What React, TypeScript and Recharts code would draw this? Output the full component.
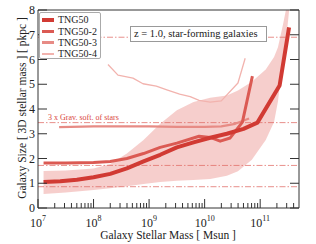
import React from "react";
import { ComposedChart, Line, Area, XAxis, YAxis, ReferenceLine } from "recharts";

// log10(M*/Msun) and median 3D stellar half-mass size [pkpc]
const logMassTNG50 = [7.1, 7.4, 7.7, 8.0, 8.3, 8.6, 8.9, 9.2, 9.5, 9.8, 10.1, 10.4, 10.7, 10.95, 11.35, 11.52];
const sizeTNG50 = [1.05, 1.08, 1.14, 1.24, 1.38, 1.6, 1.88, 2.15, 2.45, 2.65, 2.84, 3.0, 3.2, 3.45, 4.95, 7.3];

const logMassTNG50_2 = [7.1, 7.5, 8.0, 8.3, 8.6, 8.9, 9.2, 9.5, 9.9, 10.1, 10.28, 10.46, 10.68, 10.86];
const sizeTNG50_2 = [1.82, 1.82, 1.84, 1.88, 2.0, 2.2, 2.45, 2.62, 2.9, 2.85, 2.7, 2.83, 3.47, 5.33];

const logMassTNG50_3 = [7.38, 8.0, 8.5, 9.0, 9.5, 10.0, 10.3, 10.55, 10.8];
const sizeTNG50_3 = [3.27, 3.3, 3.3, 3.3, 3.28, 3.28, 3.3, 3.4, 3.62];

const logMassTNG50_4 = [8.26, 8.44, 8.71, 8.89, 9.13, 9.32, 9.55, 9.74, 9.9, 10.1, 10.3, 10.6, 10.73];
const sizeTNG50_4 = [5.8, 5.37, 5.25, 5.02, 4.92, 4.77, 4.6, 4.5, 4.35, 4.28, 4.33, 5.05, 6.05];

// scatter band around TNG50
const bandLogMass = [7.1, 7.5, 8.0, 8.3, 8.6, 8.9, 9.2, 9.5, 9.8, 10.1, 10.4, 10.6, 10.85, 11.1, 11.25, 11.32, 11.41, 11.49, 11.55];
const bandLow = [0.57, 0.63, 0.73, 0.8, 0.88, 0.97, 1.05, 1.1, 1.13, 1.17, 1.3, 1.48, 1.95, 2.75, 3.47, 4.3, 6.0, 7.3, 8.6];
const bandHigh = [1.5, 1.52, 1.6, 1.78, 2.2, 2.75, 3.4, 3.95, 4.28, 4.45, 4.55, 4.75, 5.1, 5.6, 6.1, 6.5, 7.4, 8.3, 9.0];

// 3 x gravitational softening of stars, per run
const softLengths = [0.86, 1.72, 3.45, 6.9];

const yTicks = [0, 1, 2, 3, 4, 5, 6, 7, 8];
const majorExponents = [7, 8, 9, 10, 11];
const minorMultipliers = [2, 3, 4, 5, 6, 7, 8, 9];

const runs = [
  { name: "TNG50", color: "#d13a33", width: 4 },
  { name: "TNG50-2", color: "#db5a53", width: 3 },
  { name: "TNG50-3", color: "#e78b85", width: 2.2 },
  { name: "TNG50-4", color: "#f2b3ae", width: 1.3 },
];

const FONT = "'Liberation Serif', 'DejaVu Serif', serif";
const AXIS = "#333";
const XMIN = 1e7;
const XMAX = 5e11;
const MAJOR_LEN = 9;
const MINOR_LEN = 5;

const toRows = (lm: number[], v: number[]) => lm.map((x, i) => ({ m: 10 ** x, size: v[i] }));

const series = [
  toRows(logMassTNG50, sizeTNG50),
  toRows(logMassTNG50_2, sizeTNG50_2),
  toRows(logMassTNG50_3, sizeTNG50_3),
  toRows(logMassTNG50_4, sizeTNG50_4),
];
const bandRows = bandLogMass.map((x, i) => ({ m: 10 ** x, range: [bandLow[i], bandHigh[i]] }));

const allXTicks = majorExponents
  .flatMap((e) => [10 ** e, ...minorMultipliers.map((k) => k * 10 ** e)])
  .filter((v) => v < XMAX);

const isMajor = (v: number) => Math.abs(Math.log10(v) - Math.round(Math.log10(v))) < 1e-6;

function BottomTick({ x, y, payload }: any) {
  const major = isMajor(payload.value);
  const len = major ? MAJOR_LEN : MINOR_LEN;
  return (
    <g>
      <line x1={x} x2={x} y1={y} y2={y - len} stroke={AXIS} strokeWidth={1} />
      {major && (
        <text x={x} y={y + 19} textAnchor="middle" fill="#222" fontFamily={FONT} fontSize={12}>
          <tspan>10</tspan>
          <tspan dy={-6} fontSize={8}>{Math.round(Math.log10(payload.value))}</tspan>
        </text>
      )}
    </g>
  );
}

function TopTick({ x, y, payload }: any) {
  const len = isMajor(payload.value) ? MAJOR_LEN : MINOR_LEN;
  return <line x1={x} x2={x} y1={y} y2={y + len} stroke={AXIS} strokeWidth={1} />;
}

function LeftTick({ x, y, payload }: any) {
  return (
    <g>
      <line x1={x} x2={x + MAJOR_LEN} y1={y} y2={y} stroke={AXIS} strokeWidth={1} />
      <text x={x - 3} y={y + 4} textAnchor="end" fill="#222" fontFamily={FONT} fontSize={12}>
        {payload.value}
      </text>
    </g>
  );
}

function RightTick({ x, y }: any) {
  return <line x1={x} x2={x - MAJOR_LEN} y1={y} y2={y} stroke={AXIS} strokeWidth={1} />;
}

function SoftLabel({ viewBox }: any) {
  if (!viewBox) return null;
  return (
    <text x={viewBox.x + 10} y={viewBox.y - 3} fill="#d9443d" fontFamily={FONT} fontSize={8}>
      3 x Grav. soft. of stars
    </text>
  );
}

const xAxisCommon = {
  type: "number" as const,
  scale: "log" as const,
  domain: [XMIN, XMAX],
  allowDataOverflow: true,
  ticks: allXTicks,
  interval: 0,
  height: 1,
  tickSize: 0,
  tickMargin: 0,
  tickLine: false,
  axisLine: { stroke: AXIS },
};

const yAxisCommon = {
  type: "number" as const,
  domain: [0, 8],
  allowDataOverflow: true,
  ticks: yTicks,
  interval: 0,
  width: 1,
  tickSize: 0,
  tickMargin: 0,
  tickLine: false,
  axisLine: { stroke: AXIS },
};

export default function App() {
  return (
    <div style={{ position: "absolute", left: 0, top: 0, width: 316, height: 244, background: "#fff" }}>
      <ComposedChart width={316} height={244} margin={{ top: 9, right: 16, bottom: 35, left: 37 }}>
        <XAxis xAxisId="main" dataKey="m" {...xAxisCommon} tick={<BottomTick />} />
        <XAxis xAxisId="top" orientation="top" {...xAxisCommon} tick={<TopTick />} />
        <YAxis yAxisId="main" {...yAxisCommon} tick={<LeftTick />} />
        <YAxis yAxisId="right" orientation="right" {...yAxisCommon} tick={<RightTick />} />

        <Area
          xAxisId="main"
          yAxisId="main"
          data={bandRows}
          dataKey="range"
          type="linear"
          stroke="none"
          fill="#e25c57"
          fillOpacity={0.3}
          isAnimationActive={false}
        />

        {softLengths.map((s, i) => (
          <ReferenceLine
            key={s}
            xAxisId="main"
            yAxisId="main"
            y={s}
            stroke="#e06a64"
            strokeOpacity={0.75}
            strokeWidth={1}
            strokeDasharray="6 2 1.5 2"
            label={i === 2 ? <SoftLabel /> : undefined}
          />
        ))}

        {[3, 2, 1, 0].map((i) => (
          <Line
            key={runs[i].name}
            xAxisId="main"
            yAxisId="main"
            data={series[i]}
            dataKey="size"
            type="linear"
            stroke={runs[i].color}
            strokeWidth={runs[i].width}
            strokeLinejoin="round"
            dot={false}
            activeDot={false}
            isAnimationActive={false}
          />
        ))}
      </ComposedChart>

      {/* legend */}
      <div
        style={{
          position: "absolute",
          left: 39,
          top: 12,
          width: 62,
          height: 47,
          boxSizing: "border-box",
          border: "1px solid #aaa",
          borderRadius: 2,
          background: "#fff",
          paddingTop: 1,
          fontFamily: FONT,
          fontSize: 10,
          color: "#222",
        }}
      >
        {runs.map((r) => (
          <div key={r.name} style={{ display: "flex", alignItems: "center", height: 11.4, whiteSpace: "nowrap" }}>
            <div style={{ flex: "none", width: 12, height: r.width, background: r.color, marginLeft: 2, marginRight: 4 }} />
            <span style={{ lineHeight: "11px" }}>{r.name}</span>
          </div>
        ))}
      </div>

      {/* annotation */}
      <div
        style={{
          position: "absolute",
          left: 130,
          top: 26,
          width: 137,
          height: 16,
          boxSizing: "border-box",
          border: "1px solid #999",
          background: "#fff",
          fontFamily: FONT,
          fontSize: 10.5,
          lineHeight: "14px",
          paddingLeft: 3,
          color: "#222",
          whiteSpace: "nowrap",
        }}
      >
        z = 1.0, star-forming galaxies
      </div>

      {/* axis titles */}
      <div
        style={{
          position: "absolute",
          left: 168 - 100,
          top: 229,
          width: 200,
          textAlign: "center",
          fontFamily: FONT,
          fontSize: 11.5,
          lineHeight: "12px",
          color: "#222",
          whiteSpace: "nowrap",
        }}
      >
        Galaxy Stellar Mass [ Msun ]
      </div>
      <div
        style={{
          position: "absolute",
          left: 22 - 110,
          top: 108 - 7,
          width: 220,
          textAlign: "center",
          transform: "rotate(-90deg)",
          fontFamily: FONT,
          fontSize: 11.5,
          lineHeight: "14px",
          color: "#222",
          whiteSpace: "nowrap",
        }}
      >
        Galaxy Size [ 3D stellar mass ] [ pkpc ]
      </div>
    </div>
  );
}
